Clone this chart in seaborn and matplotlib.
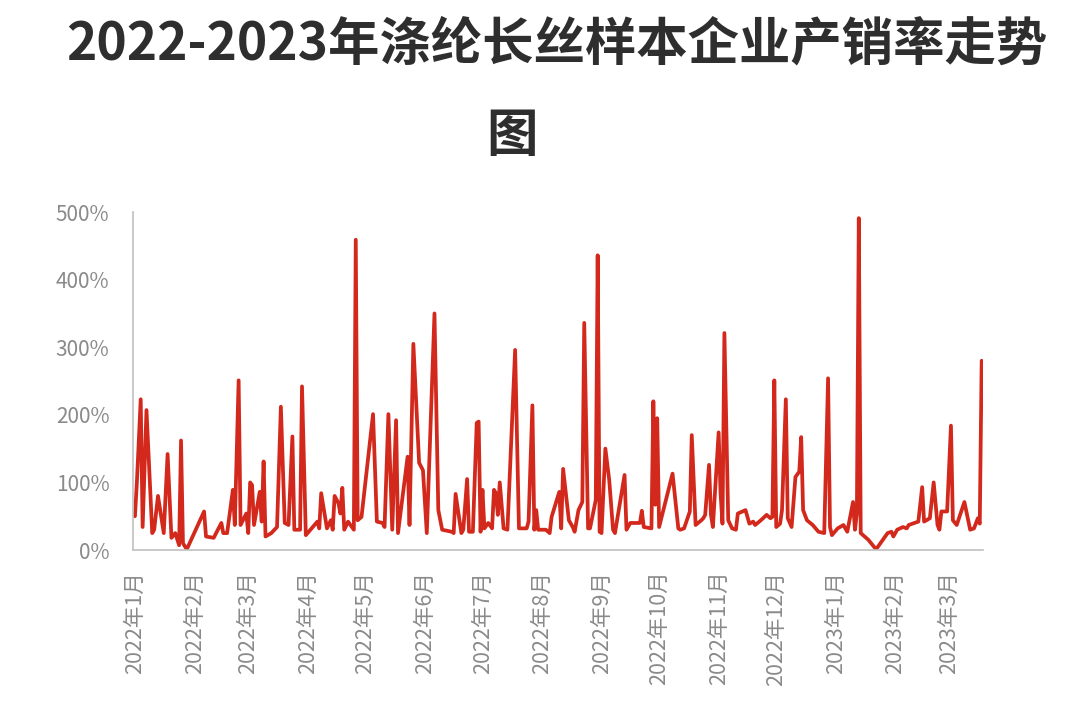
import matplotlib
matplotlib.use("Agg")
import matplotlib.pyplot as plt
import matplotlib.ticker as mticker
import seaborn as sns
import pandas as pd

# 产销率数据（%），按日期读自原图
dates = [
    "2022-01-01", "2022-01-02", "2022-01-04", "2022-01-05", "2022-01-07", "2022-01-10",
    "2022-01-11", "2022-01-13", "2022-01-16", "2022-01-18", "2022-01-20", "2022-01-22",
    "2022-01-24", "2022-01-25", "2022-01-26", "2022-01-28", "2022-02-06", "2022-02-07",
    "2022-02-11", "2022-02-15", "2022-02-16", "2022-02-18", "2022-02-21", "2022-02-22",
    "2022-02-24", "2022-02-25", "2022-02-28", "2022-03-01", "2022-03-02", "2022-03-03",
    "2022-03-04", "2022-03-07", "2022-03-08", "2022-03-09", "2022-03-10", "2022-03-13",
    "2022-03-16", "2022-03-18", "2022-03-20", "2022-03-22", "2022-03-24", "2022-03-25",
    "2022-03-28", "2022-03-29", "2022-03-31", "2022-04-06", "2022-04-07", "2022-04-08",
    "2022-04-11", "2022-04-13", "2022-04-14", "2022-04-15", "2022-04-17", "2022-04-18",
    "2022-04-19", "2022-04-20", "2022-04-22", "2022-04-25", "2022-04-26", "2022-04-27",
    "2022-04-29", "2022-05-05", "2022-05-07", "2022-05-10", "2022-05-11", "2022-05-13",
    "2022-05-15", "2022-05-17", "2022-05-18", "2022-05-23", "2022-05-24", "2022-05-26",
    "2022-05-29", "2022-05-31", "2022-06-02", "2022-06-06", "2022-06-08", "2022-06-10",
    "2022-06-15", "2022-06-16", "2022-06-17", "2022-06-20", "2022-06-21", "2022-06-23",
    "2022-06-24", "2022-06-26", "2022-06-28", "2022-06-29", "2022-06-30", "2022-07-01",
    "2022-07-02", "2022-07-04", "2022-07-06", "2022-07-07", "2022-07-08", "2022-07-09",
    "2022-07-10", "2022-07-12", "2022-07-14", "2022-07-18", "2022-07-20", "2022-07-24",
    "2022-07-25", "2022-07-27", "2022-07-28", "2022-07-29", "2022-07-30", "2022-08-03",
    "2022-08-05", "2022-08-06", "2022-08-10", "2022-08-11", "2022-08-12", "2022-08-15",
    "2022-08-17", "2022-08-18", "2022-08-20", "2022-08-22", "2022-08-23", "2022-08-25",
    "2022-08-26", "2022-08-29", "2022-08-30", "2022-08-31", "2022-09-01", "2022-09-03",
    "2022-09-05", "2022-09-07", "2022-09-08", "2022-09-13", "2022-09-14", "2022-09-16",
    "2022-09-21", "2022-09-22", "2022-09-23", "2022-09-27", "2022-09-28", "2022-09-29",
    "2022-09-30", "2022-10-01", "2022-10-08", "2022-10-11", "2022-10-12", "2022-10-14",
    "2022-10-17", "2022-10-18", "2022-10-20", "2022-10-23", "2022-10-24", "2022-10-25",
    "2022-10-27", "2022-10-28", "2022-10-29", "2022-11-01", "2022-11-02", "2022-11-03",
    "2022-11-04", "2022-11-06", "2022-11-08", "2022-11-10", "2022-11-11", "2022-11-15",
    "2022-11-17", "2022-11-19", "2022-11-20", "2022-11-23", "2022-11-26", "2022-11-28",
    "2022-11-29", "2022-11-30", "2022-12-01", "2022-12-03", "2022-12-04", "2022-12-06",
    "2022-12-07", "2022-12-09", "2022-12-11", "2022-12-13", "2022-12-14", "2022-12-15",
    "2022-12-17", "2022-12-20", "2022-12-23", "2022-12-26", "2022-12-28", "2022-12-29",
    "2022-12-30", "2023-01-02", "2023-01-05", "2023-01-07", "2023-01-10", "2023-01-11",
    "2023-01-12", "2023-01-13", "2023-01-14", "2023-01-18", "2023-01-22", "2023-01-28",
    "2023-01-30", "2023-01-31", "2023-02-02", "2023-02-05", "2023-02-07", "2023-02-08",
    "2023-02-10", "2023-02-13", "2023-02-15", "2023-02-16", "2023-02-19", "2023-02-21",
    "2023-02-23", "2023-02-24", "2023-02-25", "2023-02-28", "2023-03-02", "2023-03-03",
    "2023-03-05", "2023-03-09", "2023-03-12", "2023-03-14", "2023-03-16", "2023-03-17",
    "2023-03-18",
]
rate = [
    50, 100, 223, 34, 207, 25,
    30, 80, 25, 142, 18, 25,
    7, 162, 10, 1, 57, 20,
    18, 40, 25, 25, 89, 37,
    251, 37, 54, 25, 100, 96,
    37, 86, 42, 131, 20, 25,
    34, 212, 40, 37, 168, 30,
    30, 242, 22, 42, 32, 84,
    32, 44, 30, 80, 69, 54,
    92, 30, 42, 30, 459, 44,
    49, 201, 42, 40, 34, 201,
    30, 192, 25, 138, 37, 305,
    129, 118, 25, 350, 59, 30,
    27, 25, 83, 25, 30, 105,
    27, 27, 188, 190, 27, 89,
    32, 40, 32, 89, 84, 52,
    100, 32, 30, 296, 32, 32,
    42, 214, 30, 59, 30, 30,
    25, 49, 86, 32, 120, 44,
    34, 27, 59, 71, 336, 32,
    32, 74, 436, 27, 25, 150,
    104, 30, 25, 111, 30, 40,
    40, 58, 34, 32, 220, 67,
    195, 34, 113, 32, 30, 32,
    57, 170, 37, 44, 47, 52,
    126, 52, 34, 174, 84, 39,
    321, 44, 32, 30, 54, 59,
    39, 42, 37, 44, 52, 47,
    49, 251, 34, 39, 59, 223,
    47, 34, 108, 116, 167, 59,
    44, 37, 27, 25, 254, 34,
    22, 32, 37, 27, 71, 30,
    54, 491, 25, 15, 1, 25,
    27, 20, 30, 34, 32, 37,
    39, 42, 93, 42, 47, 100,
    37, 30, 57, 57, 184, 44,
    37, 71, 30, 32, 47, 39,
    280,
]

month_starts = pd.date_range("2022-01-01", "2023-03-01", freq="MS")
month_labels = [
    "2022年1月", "2022年2月", "2022年3月", "2022年4月", "2022年5月", "2022年6月",
    "2022年7月", "2022年8月", "2022年9月", "2022年10月", "2022年11月", "2022年12月",
    "2023年1月", "2023年2月", "2023年3月",
]
y_ticks = [0, 100, 200, 300, 400, 500]

df = pd.DataFrame({"日期": pd.to_datetime(dates), "产销率": rate})

sns.set_style("white")
plt.rcParams["font.family"] = ["Noto Sans CJK SC", "DejaVu Sans"]

fig = plt.figure(figsize=(10.66, 7.2), dpi=100)
ax = fig.add_axes([0.1248, 0.2361, 0.797, 0.4694])

sns.lineplot(data=df, x="日期", y="产销率", ax=ax, color="#D3291D", linewidth=2.7)

ax.set_xlim(pd.Timestamp("2021-12-31"), pd.Timestamp("2023-03-18 12:00"))
ax.set_ylim(0, 500)
ax.set_yticks(y_ticks)
ax.yaxis.set_major_formatter(mticker.FuncFormatter(lambda v, p: f"{v:.0f}%"))
ax.set_xticks(month_starts)
ax.set_xticklabels(month_labels, rotation=90)
ax.set_xlabel("")
ax.set_ylabel("")

for side in ["top", "right"]:
    ax.spines[side].set_visible(False)
for side in ["left", "bottom"]:
    ax.spines[side].set_color("#c0c0c0")
    ax.spines[side].set_linewidth(1.2)

ax.tick_params(axis="y", direction="in", length=5, width=1, color="#c0c0c0",
               labelcolor="#8a8a8a", labelsize=15, pad=17)
ax.tick_params(axis="x", direction="in", length=5, width=1, color="#c0c0c0",
               labelcolor="#8a8a8a", labelsize=15.5, pad=15)

fig.text(0.522, 1 - 44 / 720, "2022-2023年涤纶长丝样本企业产销率走势", ha="center", va="center",
         fontsize=37, fontweight="bold", color="#2e2e2e")
fig.text(0.480, 1 - 135 / 720, "图", ha="center", va="center",
         fontsize=37, fontweight="bold", color="#2e2e2e")

fig.savefig("out.png", dpi=100)
